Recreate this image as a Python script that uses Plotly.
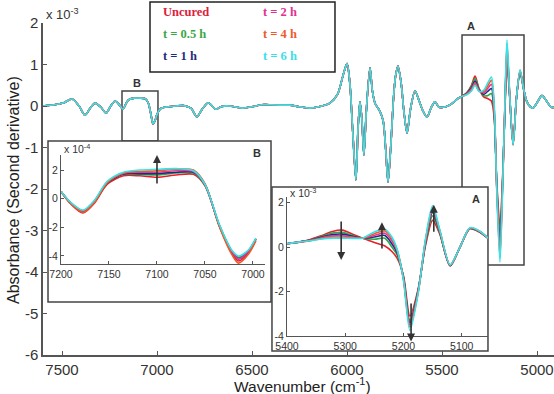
import plotly.graph_objects as go

# ---------------- data (second derivative, x10^-3 for main / inset A, x10^-4 for inset B) ----
series_names = ["Uncured", "t = 0.5 h", "t = 1 h", "t = 2 h", "t = 4 h", "t = 6 h"]
series_colors = ["#e8202a", "#2ca84a", "#1b2a8c", "#e23a95", "#f05a28", "#35e3e8"]
legend_colors = ["#e0203a", "#3aa845", "#1f2d7a", "#e4308f", "#ee5a2a", "#3ae0e8"]

# main spectrum, common part (7600 -> 5416 cm-1)
main_wn_left = [7600, 7540, 7490, 7447, 7410, 7379, 7350, 7326, 7295, 7268, 7245, 7221, 7200,
                7179, 7165, 7150, 7120, 7090, 7060, 7045, 7030, 7021, 7010, 7000, 6980, 6940,
                6900, 6860, 6820, 6790, 6760, 6730, 6710, 6690, 6660, 6620, 6580, 6550, 6500,
                6450, 6400, 6350, 6300, 6250, 6195, 6150, 6090, 6050, 6020, 6000, 5985, 5970,
                5953, 5942, 5932, 5922, 5911, 5898, 5879, 5866, 5852, 5830, 5810, 5797, 5784,
                5770, 5755, 5745, 5732, 5715, 5700, 5684, 5665, 5642, 5620, 5600, 5579, 5558,
                5537, 5515, 5480, 5450, 5416]
main_val_left = [0.0, 0.03, 0.08, 0.17, 0.0, -0.22, -0.04, 0.07, -0.03, -0.17, -0.01, 0.12, 0.04,
                 -0.08, 0.04, 0.15, 0.19, 0.19, 0.17, 0.06, -0.25, -0.43, -0.35, -0.2, -0.06, -0.02,
                 0.0, 0.01, -0.06, -0.26, -0.06, 0.08, 0.0, -0.08, -0.01, 0.0, -0.03, -0.05, -0.02,
                 0.03, 0.03, 0.02, 0.02, -0.02, -0.05, -0.02, 0.07, 0.28, 0.75, 1.02, 0.55, -0.6,
                 -1.78, -0.55, 0.1, -0.3, -1.18, -0.1, 0.92, 0.35, 0.06, -0.1, -0.35, -1.0, -1.83,
                 -1.0, 0.2, 0.7, 0.96, 0.55, -0.15, -0.65, -0.05, 0.36, 0.12, -0.12, -0.27, -0.05,
                 0.1, -0.03, -0.02, 0.05, 0.18]

# main spectrum, region A (per series)
main_wn_A = [5400, 5370, 5345, 5326, 5305, 5280, 5260, 5240, 5225, 5212, 5195, 5180, 5168, 5158,
             5145, 5126, 5108, 5089, 5070]
main_A_uncured = [0.22, 0.32, 0.5, 0.72, 0.42, 0.22, 0.18, 0.12, -0.3, -1.8, -2.9, -1.6, 0.0, 1.06, 0.3, -0.9, 0.2, 0.8, 0.4]
main_A_05h = [0.22, 0.31, 0.47, 0.66, 0.41, 0.25, 0.25, 0.3, -0.25, -1.85, -3.15, -1.65, 0.05, 1.2, 0.33, -0.91, 0.2, 0.82, 0.4]
main_A_1h = [0.22, 0.3, 0.44, 0.6, 0.39, 0.28, 0.35, 0.42, -0.2, -1.9, -3.35, -1.7, 0.1, 1.3, 0.35, -0.92, 0.2, 0.84, 0.4]
main_A_2h = [0.22, 0.29, 0.41, 0.56, 0.38, 0.32, 0.42, 0.52, -0.12, -1.93, -3.5, -1.73, 0.13, 1.4, 0.37, -0.93, 0.2, 0.85, 0.4]
main_A_4h = [0.22, 0.28, 0.38, 0.53, 0.36, 0.35, 0.48, 0.62, -0.06, -1.97, -3.65, -1.77, 0.17, 1.5, 0.39, -0.94, 0.2, 0.86, 0.4]
main_A_6h = [0.22, 0.27, 0.36, 0.5, 0.35, 0.38, 0.55, 0.7, 0.0, -2.0, -3.76, -1.8, 0.2, 1.59, 0.4, -0.94, 0.2, 0.87, 0.4]

# main spectrum, common right part
main_wn_right = [5053, 5035, 5021, 5000, 4974, 4950, 4925, 4890]
main_val_right = [0.1, -0.02, -0.05, 0.08, 0.25, 0.12, -0.03, -0.03]

# inset B (x10^-4)
insetB_wn = [7200, 7190, 7177, 7165, 7152, 7135, 7118, 7100, 7080, 7062, 7050, 7035, 7022, 7015, 7005, 6997]
insetB_uncured = [0.5, -0.35, -1.0, -0.3, 1.0, 1.6, 1.6, 1.5, 1.65, 1.7, 0.9, -1.9, -3.8, -4.35, -3.8, -2.9]
insetB_05h = [0.5, -0.3, -0.9, -0.2, 1.1, 1.7, 1.7, 1.65, 1.8, 1.8, 0.95, -1.85, -3.65, -4.1, -3.65, -2.8]
insetB_1h = [0.5, -0.3, -0.9, -0.2, 1.1, 1.72, 1.75, 1.75, 1.85, 1.85, 1.0, -1.9, -3.7, -4.2, -3.7, -2.8]
insetB_2h = [0.5, -0.28, -0.85, -0.15, 1.15, 1.78, 1.85, 1.85, 1.95, 1.9, 1.0, -1.9, -3.7, -4.2, -3.7, -2.8]
insetB_4h = [0.5, -0.32, -0.95, -0.25, 1.1, 1.8, 1.9, 1.95, 2.05, 2.0, 1.05, -1.95, -3.9, -4.5, -3.9, -2.95]
insetB_6h = [0.5, -0.25, -0.8, -0.1, 1.2, 1.85, 2.0, 2.05, 2.1, 1.95, 1.0, -1.8, -3.6, -4.0, -3.6, -2.75]

# inset A (x10^-3)
insetA_wn = [5400, 5380, 5360, 5340, 5322, 5305, 5285, 5270, 5250, 5232, 5220, 5211, 5200, 5189,
             5175, 5162, 5150, 5138, 5120, 5103, 5086, 5070, 5055]
insetA_uncured = [0.15, 0.22, 0.34, 0.52, 0.7, 0.76, 0.55, 0.4, 0.2, 0.05, -0.2, -0.5, -1.3, -3.1, -1.9, 0.1, 1.2, 0.6, -0.85, 0.0, 0.82, 0.68, 0.4]
insetA_05h = [0.15, 0.22, 0.32, 0.48, 0.63, 0.66, 0.5, 0.4, 0.35, 0.4, 0.0, -0.35, -1.35, -3.3, -1.95, 0.18, 1.4, 0.65, -0.84, 0.0, 0.83, 0.69, 0.4]
insetA_1h = [0.15, 0.22, 0.31, 0.45, 0.56, 0.58, 0.47, 0.4, 0.45, 0.52, 0.15, -0.25, -1.4, -3.4, -2.0, 0.25, 1.55, 0.7, -0.83, 0.0, 0.84, 0.7, 0.4]
insetA_2h = [0.15, 0.22, 0.3, 0.42, 0.5, 0.5, 0.44, 0.4, 0.52, 0.62, 0.28, -0.18, -1.43, -3.5, -2.03, 0.3, 1.65, 0.74, -0.82, 0.0, 0.85, 0.71, 0.4]
insetA_4h = [0.15, 0.22, 0.29, 0.39, 0.45, 0.44, 0.41, 0.4, 0.6, 0.72, 0.38, -0.12, -1.47, -3.6, -2.07, 0.35, 1.75, 0.77, -0.81, 0.0, 0.86, 0.72, 0.4]
insetA_6h = [0.15, 0.22, 0.28, 0.36, 0.4, 0.4, 0.39, 0.4, 0.68, 0.8, 0.45, -0.1, -1.5, -3.75, -2.1, 0.4, 1.85, 0.8, -0.8, 0.0, 0.87, 0.73, 0.4]

# ticks
main_xticks = [7500, 7000, 6500, 6000, 5500, 5000]
main_yticks = [2, 1, 0, -1, -2, -3, -4, -5, -6]
main_ytick_text = ["2", "1", "0", "-1", "-2", "-3", "-4", "-5", "-6"]
insetB_xticks = [7200, 7150, 7100, 7050, 7000]
insetA_xticks = [5400, 5300, 5200, 5100]
inset_yticks = [2, 0, -2, -4]
inset_ytick_text = ["2", "0", "-2", "-4"]

main_A_sets = [main_A_uncured, main_A_05h, main_A_1h, main_A_2h, main_A_4h, main_A_6h]
insetB_sets = [insetB_uncured, insetB_05h, insetB_1h, insetB_2h, insetB_4h, insetB_6h]
insetA_sets = [insetA_uncured, insetA_05h, insetA_1h, insetA_2h, insetA_4h, insetA_6h]

fig = go.Figure()
for i in range(6):
    fig.add_trace(go.Scatter(
        x=main_wn_left + main_wn_A + main_wn_right,
        y=main_val_left + main_A_sets[i] + main_val_right,
        mode="lines", line=dict(color=series_colors[i], width=1.6, shape="spline", smoothing=0.8),
        xaxis="x", yaxis="y", showlegend=False, name=series_names[i]))
for i in range(6):
    fig.add_trace(go.Scatter(
        x=insetB_wn, y=insetB_sets[i], mode="lines",
        line=dict(color=series_colors[i], width=1.6, shape="spline", smoothing=0.8),
        xaxis="x2", yaxis="y2", showlegend=False, name=series_names[i]))
for i in range(6):
    fig.add_trace(go.Scatter(
        x=insetA_wn, y=insetA_sets[i], mode="lines",
        line=dict(color=series_colors[i], width=1.6, shape="spline", smoothing=0.8),
        xaxis="x3", yaxis="y3", showlegend=False, name=series_names[i]))

FONT = "Liberation Sans, Arial, sans-serif"
axis_common = dict(showgrid=False, zeroline=False, showline=True, linecolor="#555",
                   ticks="inside", tickcolor="#555")

fig.update_layout(
    width=554, height=394,
    margin=dict(l=43, r=0, t=23, b=39),
    paper_bgcolor="white", plot_bgcolor="rgba(0,0,0,0)",
    font=dict(family=FONT, color="#333"),
    xaxis=dict(domain=[0, 1], range=[7600, 4910.5], tickvals=main_xticks,
               ticklen=4, linewidth=1.5, tickfont=dict(size=15, color="#333"), **axis_common),
    yaxis=dict(domain=[0, 1], range=[-6, 2], tickvals=main_yticks, ticktext=main_ytick_text,
               ticklen=4, linewidth=1.5, tickfont=dict(size=15, color="#333"), **axis_common),
    xaxis2=dict(domain=[0.0352, 0.4344], range=[7200, 6987.5], anchor="y2", tickvals=insetB_xticks,
                ticklen=3, linewidth=1, tickfont=dict(size=10.5, color="#333"), **axis_common),
    yaxis2=dict(domain=[0.2741, 0.6024], range=[-4.56, 3.05], anchor="x2", tickvals=inset_yticks,
                ticktext=inset_ytick_text, ticklen=3, linewidth=1,
                tickfont=dict(size=10.5, color="#333"), **axis_common),
    xaxis3=dict(domain=[0.4775, 0.8708], range=[5400, 5055], anchor="y3", tickvals=insetA_xticks,
                ticklen=3, linewidth=1, tickfont=dict(size=10.5, color="#333"), **axis_common),
    yaxis3=dict(domain=[0.0572, 0.4759], range=[-4.0, 2.25], anchor="x3", tickvals=inset_yticks,
                ticktext=inset_ytick_text, ticklen=3, linewidth=1,
                tickfont=dict(size=10.5, color="#333"), **axis_common),
)

box_line = dict(color="#444", width=1.5)
shapes = [
    # main box B and box A
    dict(type="rect", xref="paper", yref="paper", x0=0.1546, x1=0.2250, y0=0.6446, y1=0.7952,
         line=box_line, layer="below"),
    dict(type="rect", xref="paper", yref="paper", x0=0.8200, x1=0.9413, y0=0.2711, y1=0.9639,
         line=box_line, layer="below"),
    # inset frames
    dict(type="rect", xref="paper", yref="paper", x0=0.0098, x1=0.4462, y0=0.1596, y1=0.6446,
         line=box_line, fillcolor="white", layer="below"),
    dict(type="rect", xref="paper", yref="paper", x0=0.4481, x1=0.8708, y0=0.012, y1=0.506,
         line=box_line, fillcolor="white", layer="below"),
    # legend box
    dict(type="rect", xref="paper", yref="paper", x0=0.2094, x1=0.5714, y0=0.8524, y1=1.0633,
         line=dict(color="#222", width=1.5), fillcolor="white", layer="below"),
]
fig.update_layout(shapes=shapes)

ann = []
# axis titles
ann.append(dict(text="Wavenumber (cm<sup>-1</sup>)", xref="paper", yref="paper", x=0.507, y=-0.09,
                showarrow=False, font=dict(size=15.5, color="#222"), xanchor="center", yanchor="middle"))
ann.append(dict(text="Absorbance (Second derivative)", xref="paper", yref="paper", x=-0.0568, y=0.497,
                showarrow=False, textangle=-90, font=dict(size=16, color="#222"),
                xanchor="center", yanchor="middle"))
# exponents and labels
ann.append(dict(text="x 10<sup>-3</sup>", xref="paper", yref="paper", x=0.002, y=1.026,
                showarrow=False, xanchor="left", yanchor="middle", font=dict(size=13, color="#333")))
ann.append(dict(text="x 10<sup>-4</sup>", xref="paper", yref="paper", x=0.037, y=0.6205,
                showarrow=False, xanchor="left", yanchor="middle", font=dict(size=10.5, color="#333")))
ann.append(dict(text="x 10<sup>-3</sup>", xref="paper", yref="paper", x=0.4795, y=0.488,
                showarrow=False, xanchor="left", yanchor="middle", font=dict(size=10.5, color="#333")))
for txt, px, py in [("B", 0.4188, 0.6084), ("A", 0.8474, 0.47), ("B", 0.184, 0.819), ("A", 0.8376, 0.991)]:
    ann.append(dict(text="<b>%s</b>" % txt, xref="paper", yref="paper", x=px, y=py, showarrow=False,
                    xanchor="center", yanchor="middle", font=dict(size=11, color="#333")))
# legend entries
leg_pos = [(0.2309, 1.0331), (0.2309, 0.9669), (0.2309, 0.9006),
           (0.4266, 1.0331), (0.4266, 0.9669), (0.4266, 0.9006)]
for i in range(6):
    ann.append(dict(text="<b>%s</b>" % series_names[i], xref="paper", yref="paper",
                    x=leg_pos[i][0], y=leg_pos[i][1], showarrow=False, xanchor="left", yanchor="middle",
                    font=dict(size=12.5, color=legend_colors[i], family="Liberation Serif, serif")))
# arrows
arrow_style = dict(showarrow=True, arrowhead=2, arrowsize=1, arrowwidth=1.6, arrowcolor="#333", text=" ")
ann.append(dict(x=7100, y=3.05, ax=7100, ay=0.46, xref="x2", yref="y2", axref="x2", ayref="y2", **arrow_style))
ann.append(dict(x=5307, y=-0.58, ax=5307, ay=1.53, xref="x3", yref="y3", axref="x3", ayref="y3", **arrow_style))
ann.append(dict(x=5237, y=1.12, ax=5237, ay=-0.45, xref="x3", yref="y3", axref="x3", ayref="y3", **arrow_style))
ann.append(dict(x=5187, y=-4.25, ax=5187, ay=-2.16, xref="x3", yref="y3", axref="x3", ayref="y3", **arrow_style))
ann.append(dict(x=5148, y=1.9, ax=5148, ay=0.3, xref="x3", yref="y3", axref="x3", ayref="y3", **arrow_style))
fig.update_layout(annotations=ann)

fig.write_html("out.html", config={"displayModeBar": False},
               post_script="document.body.style.margin='0px';")
